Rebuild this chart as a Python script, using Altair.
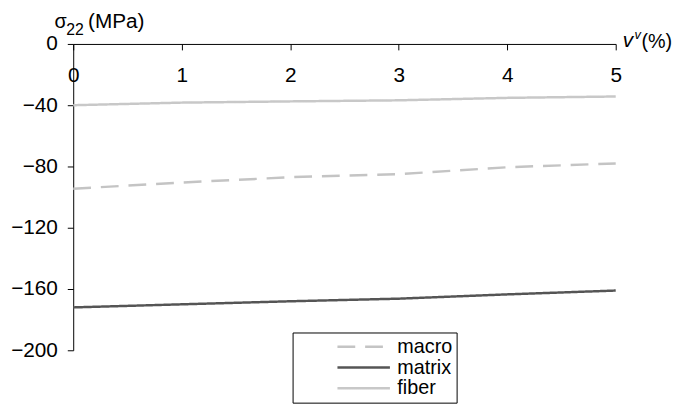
import altair as alt
import pandas as pd

x_vals = [0, 1, 2, 3, 4, 5]
macro = [-94.5, -90.5, -87, -85, -80.5, -78]
matrix = [-172, -170, -168, -166.3, -163.5, -161]
fiber = [-40, -38.3, -37.5, -36.8, -35.2, -34.3]
series_names = ["macro", "matrix", "fiber"]
y_ticks = [-200, -160, -120, -80, -40, 0]

rows = []
for name, vals in zip(series_names, [macro, matrix, fiber]):
    for xv, yv in zip(x_vals, vals):
        rows.append({"x": xv, "y": yv, "series": name})
df = pd.DataFrame(rows)

FONT = "Liberation Sans"
W, H = 549, 310

legend = alt.Legend(
    orient="none", legendX=222, legendY=292, title=None,
    symbolType="M-4.9,0H1", symbolSize=324, symbolStrokeWidth=2.5,
    symbolOffset=75, labelOffset=6, labelFontSize=20, labelFont=FONT,
    labelColor="black", strokeColor="black", padding=4, rowPadding=0,
)

lines = alt.Chart(df).mark_line(strokeWidth=2.5).encode(
    x=alt.X("x:Q", scale=alt.Scale(domain=[0, 5], nice=False),
            axis=alt.Axis(values=x_vals, orient="bottom", offset=-H, tickSize=6,
                          labelPadding=15, labelFontSize=21, labelFont=FONT,
                          labelColor="black", domainColor="black", tickColor="black",
                          labelFlush=False, labelOverlap=False, grid=False, title=None,
                          labelAngle=0)),
    y=alt.Y("y:Q", scale=alt.Scale(domain=[-200, 0], nice=False, zero=False),
            axis=alt.Axis(values=y_ticks, tickSize=6, labelPadding=10, labelFontSize=21,
                          labelFont=FONT, labelColor="black", domainColor="black",
                          tickColor="black", grid=False, title=None, labelFlush=False,
                          labelExpr="datum.value < 0 ? '\u2212' + format(-datum.value, 'd') : format(datum.value, 'd')")),
    color=alt.Color("series:N", scale=alt.Scale(domain=series_names,
                    range=["#c4c4c4", "#555555", "#c8c8c8"]), legend=legend),
    strokeDash=alt.StrokeDash("series:N", scale=alt.Scale(domain=series_names,
                    range=[[18, 10], [1, 0], [1, 0]]), legend=legend),
)

def txt(s, x, y, size, style="normal"):
    return alt.Chart(pd.DataFrame({"t": [s]})).mark_text(
        align="left", baseline="alphabetic", font=FONT, fontSize=size,
        fontStyle=style, color="black"
    ).encode(text="t:N", x=alt.value(x), y=alt.value(y))

chart = alt.layer(
    lines,
    txt("σ", -19, -16, 20),
    txt("22", -7, -9, 16),
    txt("(MPa)", 15, -16, 21),
    txt("v", 556, 3, 21, "italic"),
    txt("v", 568, -5, 13, "italic"),
    txt("(%)", 575, 4, 20),
).properties(
    width=W, height=H,
    autosize=alt.AutoSizeParams(type="none"),
    padding={"left": 66, "top": 34, "right": 61, "bottom": 54},
).configure_view(stroke=None)

chart.save("out.html", embed_options={"renderer": "svg", "actions": False})
